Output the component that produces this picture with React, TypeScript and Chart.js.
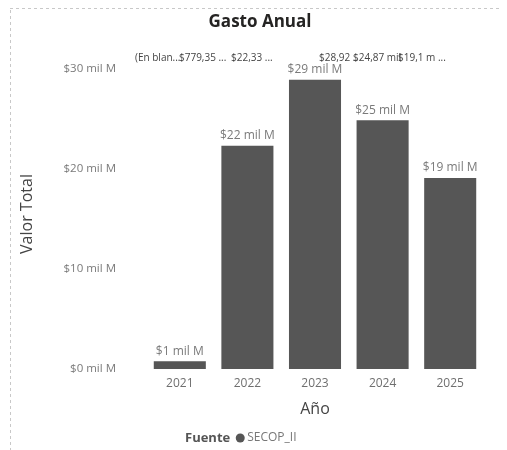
import React, { useEffect, useRef } from "react";
import { Chart, registerables } from "chart.js";

Chart.register(...registerables);

const years = ["2021", "2022", "2023", "2024", "2025"];
const totals = [0.77935, 22.33, 28.92, 24.87, 19.1];
const barLabels = ["$1 mil M", "$22 mil M", "$29 mil M", "$25 mil M", "$19 mil M"];
const yTicks = [0, 10, 20, 30];
const topRowTexts = ["(En blan...", "$779,35 ...", "$22,33 ...", "$28,92 ..", "$24,87 mil", "$19,1 m ..."];
const topRowX = [135, 179, 231, 319, 353, 398];
const seriesName = "SECOP_II";
const legendTitle = "Fuente";
const chartTitle = "Gasto Anual";

const FONT = "'Open Sans', 'Noto Sans', sans-serif";
const BAR = "#565656";

export default function App() {
  const ref = useRef<HTMLCanvasElement | null>(null);
  useEffect(() => {
    if (!ref.current) return;
    const decor = {
      id: "decor",
      beforeDraw(chart: any) {
        const ctx = chart.ctx;
        ctx.save();
        ctx.fillStyle = "#ffffff";
        ctx.fillRect(0, 0, chart.width, chart.height);
        ctx.strokeStyle = "#c8c8c8";
        ctx.setLineDash([3, 3]);
        ctx.lineWidth = 1;
        ctx.beginPath();
        ctx.moveTo(10.5, 10);
        ctx.lineTo(10.5, 450);
        ctx.moveTo(10, 8.5);
        ctx.lineTo(500, 8.5);
        ctx.stroke();
        ctx.restore();
      },
      afterDraw(chart: any) {
        const ctx = chart.ctx;
        ctx.save();
        // title
        ctx.fillStyle = "#252423";
        ctx.font = `bold 17px ${FONT}`;
        ctx.textAlign = "center";
        ctx.textBaseline = "middle";
        ctx.fillText(chartTitle, 260, 22);
        // top row texts
        ctx.font = `10px ${FONT}`;
        ctx.fillStyle = "#444";
        ctx.textAlign = "left";
        topRowTexts.forEach((t, i) => ctx.fillText(t, topRowX[i], 58));
        // bar labels
        const meta = chart.getDatasetMeta(0);
        ctx.font = `12px ${FONT}`;
        ctx.fillStyle = "#7a7a7a";
        ctx.textAlign = "center";
        ctx.textBaseline = "bottom";
        meta.data.forEach((bar: any, i: number) => {
          ctx.fillText(barLabels[i], bar.x, bar.y - 4);
        });
        // legend
        ctx.textBaseline = "middle";
        ctx.textAlign = "left";
        ctx.font = `bold 13px ${FONT}`;
        ctx.fillStyle = "#555";
        ctx.fillText(legendTitle, 185, 438);
        const w = ctx.measureText(legendTitle).width;
        ctx.beginPath();
        ctx.fillStyle = BAR;
        ctx.arc(185 + w + 10, 438, 4.5, 0, Math.PI * 2);
        ctx.fill();
        ctx.font = `12px ${FONT}`;
        ctx.fillStyle = "#777";
        ctx.fillText(chart.data.datasets[0].label, 185 + w + 17, 438);
        ctx.restore();
      },
    };
    const chart = new Chart(ref.current, {
      type: "bar",
      data: {
        labels: years,
        datasets: [
          {
            label: seriesName,
            data: totals,
            backgroundColor: BAR,
            categoryPercentage: 0.77,
            barPercentage: 1,
          },
        ],
      },
      options: {
        animation: false,
        responsive: false,
        layout: { padding: { top: 59, left: 14, right: 23, bottom: 30 } },
        plugins: { legend: { display: false }, title: { display: false }, tooltip: { enabled: false } },
        scales: {
          x: {
            grid: { display: false, drawTicks: false },
            border: { display: false },
            ticks: { color: "#6f6f6f", font: { family: FONT, size: 12 }, padding: 7 },
            title: {
              display: true,
              text: "Año",
              color: "#444",
              font: { family: FONT, size: 16 },
              padding: { top: 0, bottom: 1 },
            },
            afterFit(scale: any) {
              scale.height = 51;
            },
          },
          y: {
            min: 0,
            max: 31,
            grid: { display: false, drawTicks: false },
            border: { display: false },
            afterBuildTicks(scale: any) {
              scale.ticks = yTicks.map((v) => ({ value: v }));
            },
            ticks: {
              color: "#7a7a7a",
              font: { family: FONT, size: 11.5 },
              padding: 30,
              callback: (v: any) => `$${v} mil M`,
            },
            title: {
              display: true,
              text: "Valor Total",
              color: "#444",
              font: { family: FONT, size: 16 },
              padding: { top: 4, bottom: 0 },
            },
            afterFit(scale: any) {
              scale.width = 132;
            },
          },
        },
      },
      plugins: [decor],
    } as any);
    return () => chart.destroy();
  }, []);
  return (
    <div style={{ position: "fixed", left: 0, top: 0, width: 507, height: 450, background: "#fff" }}>
      <canvas ref={ref} width={507} height={450} style={{ display: "block" }} />
    </div>
  );
}
